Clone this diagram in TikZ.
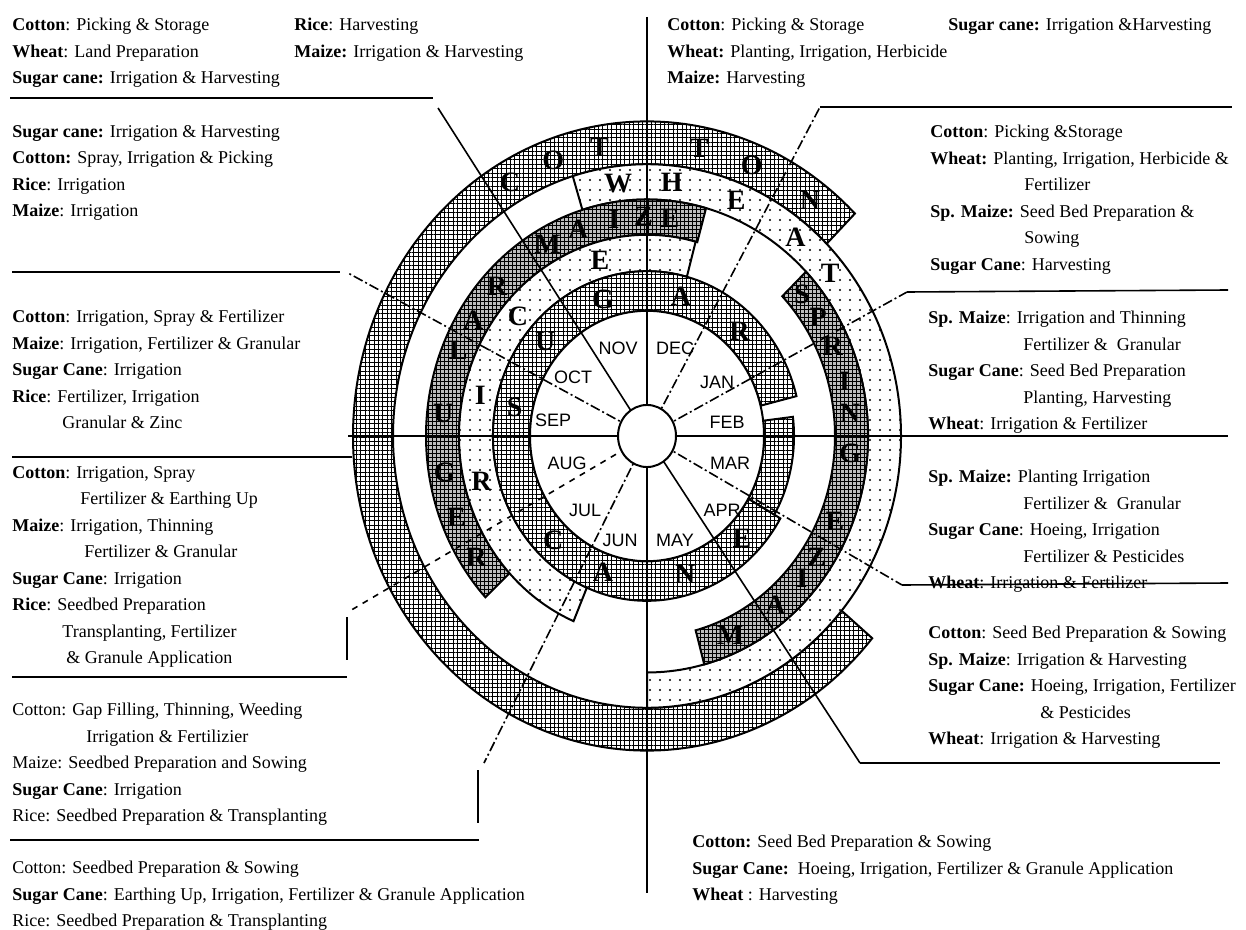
\documentclass[tikz,border=0pt]{standalone}
\usepackage{fontspec}
\setmainfont{Liberation Serif}
\setsansfont{Liberation Sans}
\usetikzlibrary{patterns.meta}

\tikzset{
  ring/.style={draw=black,line width=1pt},
  gridfill/.style={ring,preaction={fill=white},pattern={Hatch[distance=2.2pt,line width=0.5pt]}},
  dotfill/.style={ring,preaction={fill=white},pattern={Dots[distance=5pt,radius=0.6pt]}},
  darkfill/.style={ring,preaction={fill=gray!52},pattern={Hatch[distance=2pt,line width=0.5pt]}},
  spoke/.style={line width=0.8pt},
  dashspoke/.style={spoke,dash pattern=on 5pt off 1.5pt on 1pt off 1.5pt},
  crop/.style={font=\bfseries\fontsize{14}{14}\selectfont,inner sep=0pt},
  month/.style={font=\sffamily\fontsize{9}{9}\selectfont,inner sep=0pt},
  block/.style={anchor=north west,inner sep=0pt,align=left,font=\fontsize{9}{13.25}\selectfont},
}
\newcommand\band[4]{(#3:#2) arc[start angle=#3,end angle=#4,radius=#2] -- (#4:#1) arc[start angle=#4,end angle=#3,radius=#1] -- cycle}

\begin{document}
\begin{tikzpicture}[x=0.5pt,y=-0.5pt]
  \useasboundingbox (0,0) rectangle (1246,930);
  \coordinate (o) at (647,436);

  % crop rings
  \begin{scope}[shift={(o)},yscale=-1.07]
    \path[gridfill] \band{254}{294}{45}{320};   % cotton
    \path[dotfill]  \band{221}{254}{-90}{107};  % wheat
    \path[darkfill] \band{188}{221}{74.5}{223}; % maize
    \path[darkfill] \band{188}{221}{-75}{44};   % spring maize
    \path[dotfill]  \band{154}{188}{75}{247};   % rice
    \path[gridfill] \band{117}{154}{14}{330};   % sugar cane
    \path[gridfill] \band{117}{147}{-30}{7};
    \draw[ring,fill=white] (0,0) circle[radius=117];
  \end{scope}

  % spokes out to the text blocks
  \coordinate (e0) at (1228,436);
  \coordinate (e30) at (907,292);
  \coordinate (e60) at (820,107);
  \coordinate (e90) at (647,17);
  \coordinate (e120) at (438,108);
  \coordinate (e150) at (348,273);
  \coordinate (e180) at (348,436);
  \coordinate (e210) at (348,612);
  \coordinate (e240) at (484,763);
  \coordinate (e270) at (647,893);
  \coordinate (e300) at (860,763);
  \coordinate (e330) at (902,585);
  \draw[spoke] (e90) -- (e270);
  \draw[spoke] (e180) -- (e0);
  \draw[dashspoke] (o) -- (e30);
  \draw[dashspoke] (o) -- (e60);
  \draw[spoke] (o) -- (e120);
  \draw[dashspoke] (o) -- (e150);
  \draw[spoke,dashed] (o) -- (e210);
  \draw[dashspoke] (o) -- (e240);
  \draw[spoke] (o) -- (e300);
  \draw[dashspoke] (o) -- (e330);

  % rules between the blocks
  \coordinate (s30) at (1228,290);
  \coordinate (s60) at (1232,107);
  \coordinate (s300) at (1220,763);
  \coordinate (s330) at (1228,583);
  \coordinate (a120) at (10,98);   \coordinate (b120) at (433,98);
  \coordinate (a150) at (12,272);  \coordinate (b150) at (340,272);
  \coordinate (a180) at (12,457);  \coordinate (b180) at (352,457);
  \coordinate (a210) at (12,677);  \coordinate (b210) at (347,677);
  \coordinate (v210) at (347,617); \coordinate (w210) at (347,660);
  \coordinate (a240) at (10,840);  \coordinate (b240) at (479,840);
  \coordinate (v240) at (478,770); \coordinate (w240) at (478,823);
  \draw[spoke] (e30) -- (s30);
  \draw[spoke] (e60) -- (s60);
  \draw[spoke] (e300) -- (s300);
  \draw[spoke] (e330) -- (s330);
  \draw[spoke] (a120) -- (b120);
  \draw[spoke] (a150) -- (b150);
  \draw[spoke] (a180) -- (b180);
  \draw[spoke] (a210) -- (b210);
  \draw[spoke] (v210) -- (w210);
  \draw[spoke] (a240) -- (b240);
  \draw[spoke] (v240) -- (w240);

  \begin{scope}[shift={(o)},yscale=-1.07]
    \draw[ring,fill=white] (0,0) circle[radius=29];
    % ring lettering
    \foreach \a/\l [count=\i] in {120/C,110/O,100/T,79/T,67.5/O,53.5/N}
      \node[crop] (cot\i) at (\a:274) {\l};
    \foreach \a/\l [count=\i] in {97/W,84/H,68/E,51.4/A,39.7/T}
      \node[crop] (wht\i) at (\a:238) {\l};
    \foreach \a/\l [count=\i] in {213.7/R,201.7/E,189.5/G,174/U,157/L,148/A,137/R,119/M,109.6/A,99.3/I,91/Z,83.6/E}
      \node[crop] (mze\i) at (\a:205) {\l};
    \foreach \a/\l [count=\i] in {40.6/S,33/P,24.4/R,14.5/I,6/N,-4.6/G,-22.9/E,-33.8/Z,-40.6/I,-51/A,-66/M}
      \node[crop] (spm\i) at (\a:204) {\l};
    \foreach \a/\l [count=\i] in {194.5/R,167/I,139/C,106/E}
      \node[crop] (ric\i) at (\a:171) {\l};
    \foreach \a/\l [count=\i] in {168.7/S,139/U,109/G,75.4/A,46.7/R,-134/C,-109/A,-73.5/N,-45.3/E}
      \node[crop] (sug\i) at (\a:135) {\l};
  \end{scope}

  % months
  \foreach \m/\x/\y in {NOV/618/348,DEC/675/348,OCT/573/377,JAN/717/382,SEP/553/420,FEB/727/422,
                        AUG/567/463,MAR/730/463,JUL/585/510,APR/722/510,JUN/620/540,MAY/675/540}
    \node[month] (\m) at (\x,\y) {\m};

  % operations per month
  \node[block] (nov) at (12,18) {\textbf{Cotton}: Picking \& Storage\\ \textbf{Wheat}: Land Preparation\\ \textbf{Sugar cane:} Irrigation \& Harvesting};
  \node[block] (nov2) at (294,18) {\textbf{Rice}: Harvesting\\ \textbf{Maize:} Irrigation \& Harvesting};
  \node[block] (oct) at (12,125) {\textbf{Sugar cane:} Irrigation \& Harvesting\\ \textbf{Cotton:} Spray, Irrigation \& Picking\\ \textbf{Rice}: Irrigation\\ \textbf{Maize}: Irrigation};
  \node[block] (sep) at (12,310) {\textbf{Cotton}: Irrigation, Spray \& Fertilizer\\ \textbf{Maize}: Irrigation, Fertilizer \& Granular\\ \textbf{Sugar Cane}: Irrigation\\ \textbf{Rice}: Fertilizer, Irrigation\\ \hspace*{25pt}Granular \& Zinc};
  \node[block] (aug) at (12,466) {\textbf{Cotton}: Irrigation, Spray\\ \hspace*{34pt}Fertilizer \& Earthing Up\\ \textbf{Maize}: Irrigation, Thinning\\ \hspace*{36pt}Fertilizer \& Granular\\ \textbf{Sugar Cane}: Irrigation\\ \textbf{Rice}: Seedbed Preparation\\ \hspace*{25pt}Transplanting, Fertilizer\\ \hspace*{27pt}\& Granule Application};
  \node[block] (jul) at (12,703) {Cotton: Gap Filling, Thinning, Weeding\\ \hspace*{37pt}Irrigation \& Fertilizier\\ Maize: Seedbed Preparation and Sowing\\ \textbf{Sugar Cane}: Irrigation\\ Rice: Seedbed Preparation \& Transplanting};
  \node[block] (jun) at (12,861) {Cotton: Seedbed Preparation \& Sowing\\ \textbf{Sugar Cane}: Earthing Up, Irrigation, Fertilizer \& Granule Application\\ Rice: Seedbed Preparation \& Transplanting};
  \node[block] (may) at (692,835) {\textbf{Cotton:} Seed Bed Preparation \& Sowing\\ \textbf{Sugar Cane:}\ \ Hoeing, Irrigation, Fertilizer \& Granule Application\\ \textbf{Wheat} : Harvesting};
  \node[block] (apr) at (928,626) {\textbf{Cotton}: Seed Bed Preparation \& Sowing\\ \textbf{Sp. Maize}: Irrigation \& Harvesting\\ \textbf{Sugar Cane:} Hoeing, Irrigation, Fertilizer\\ \hspace*{56pt}\& Pesticides\\ \textbf{Wheat}: Irrigation \& Harvesting};
  \node[block] (mar) at (928,470) {\textbf{Sp. Maize:} Planting Irrigation\\ \hspace*{47.5pt}Fertilizer \&\ \ Granular\\ \textbf{Sugar Cane}: Hoeing, Irrigation\\ \hspace*{47.5pt}Fertilizer \& Pesticides\\ \textbf{Wheat}: Irrigation \& Fertilizer};
  \node[block] (feb) at (928,311) {\textbf{Sp. Maize}: Irrigation and Thinning\\ \hspace*{47.5pt}Fertilizer \&\ \ Granular\\ \textbf{Sugar Cane}: Seed Bed Preparation\\ \hspace*{47.5pt}Planting, Harvesting\\ \textbf{Wheat}: Irrigation \& Fertilizer};
  \node[block] (jan) at (930,125) {\textbf{Cotton}: Picking \&Storage\\ \textbf{Wheat:} Planting, Irrigation, Herbicide \&\\ \hspace*{47pt}Fertilizer\\ \textbf{Sp. Maize:} Seed Bed Preparation \&\\ \hspace*{47pt}Sowing\\ \textbf{Sugar Cane}: Harvesting};
  \node[block] (dec) at (667,18) {\textbf{Cotton}: Picking \& Storage\\ \textbf{Wheat:} Planting, Irrigation, Herbicide\\ \textbf{Maize:} Harvesting};
  \node[block] (dec2) at (948,18) {\textbf{Sugar cane:} Irrigation \&Harvesting};
\end{tikzpicture}
\end{document}
